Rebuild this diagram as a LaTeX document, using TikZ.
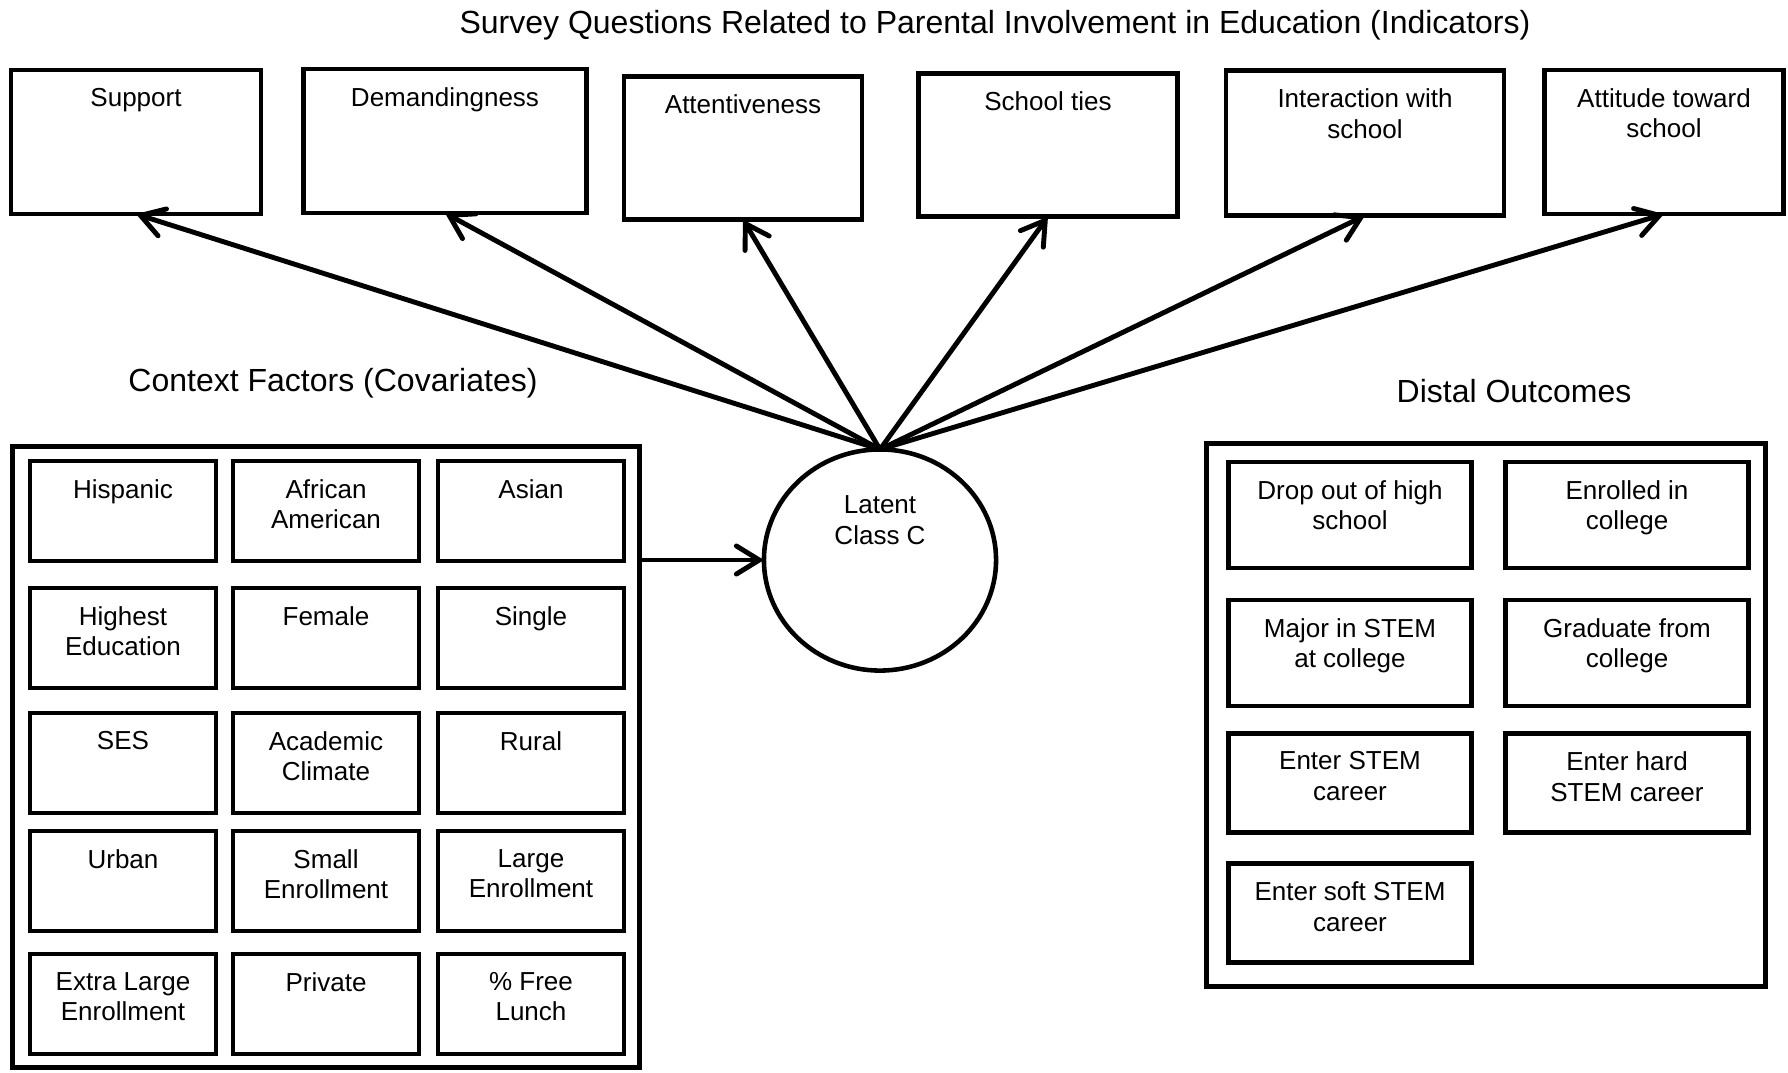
\documentclass[tikz,border=0pt]{standalone}
\usepackage{fontspec}
\setmainfont{Liberation Sans}
\usetikzlibrary{arrows.meta,shapes.geometric}

\begin{document}
\begin{tikzpicture}[
    x=0.01cm, y=-0.01cm,
    txt/.style={anchor=north, yshift=-5.0pt, align=center, inner sep=0pt,
        font=\fontsize{7.4}{8.7}\selectfont},
    qbox/.style={draw=black, line width=1.35pt, inner sep=0pt, outer sep=0pt,
        label={[txt]north:{#1}}},
    covbox/.style={qbox={#1}, minimum width=1.86cm, minimum height=1.0cm},
    outbox/.style={qbox={#1}, minimum width=2.43cm, minimum height=0.99cm},
    panel/.style={draw=black, line width=1.35pt, inner sep=0pt, outer sep=0pt},
    latent/.style={ellipse, draw=black, line width=1.3pt, inner sep=0pt,
        outer sep=0pt, minimum width=2.32cm, minimum height=2.21cm,
        label={[txt, yshift=-8pt]north:{#1}}},
    heading/.style={font=\fontsize{9.1}{11}\selectfont, inner sep=0pt},
    edge/.style={line width=1.4pt, line cap=round,
        -{Straight Barb[length=6.5pt, width=8pt, line cap=round]}}
]
    \useasboundingbox (0,0) rectangle (1788,1072);

    % headings
    \node[heading] (ttl) at (995,25)
        {Survey Questions Related to Parental Involvement in Education (Indicators)};
    \node[heading] (ctxttl) at (333,383) {Context Factors (Covariates)};
    \node[heading] (outttl) at (1514,391) {Distal Outcomes};

    % indicators
    \node[qbox=Support, minimum width=2.50cm, minimum height=1.44cm] (sup) at (136,142) {};
    \node[qbox=Demandingness, minimum width=2.83cm, minimum height=1.44cm] (dem) at (445,141) {};
    \node[qbox=Attentiveness, minimum width=2.38cm, minimum height=1.43cm] (att) at (743,148) {};
    \node[qbox=School ties, minimum width=2.59cm, minimum height=1.43cm] (tie) at (1048,145) {};
    \node[qbox={Interaction with\\school}, minimum width=2.78cm, minimum height=1.45cm] (int) at (1365,143) {};
    \node[qbox={Attitude toward\\school}, minimum width=2.39cm, minimum height=1.44cm] (atd) at (1664,142) {};

    % latent class
    \node[latent={Latent\\Class C}] (lc) at (880,560) {};

    % covariates
    \node[panel, minimum width=6.27cm, minimum height=6.21cm] (covs) at (326,757) {};
    \node[covbox=Hispanic] (hisp) at (123,511) {};
    \node[covbox={African\\American}] (afam) at (326,511) {};
    \node[covbox=Asian] (asian) at (531,511) {};
    \node[covbox={Highest\\Education}] (hied) at (123,638) {};
    \node[covbox=Female] (fem) at (326,638) {};
    \node[covbox=Single] (sing) at (531,638) {};
    \node[covbox=SES] (ses) at (123,763) {};
    \node[covbox={Academic\\Climate}] (acad) at (326,763) {};
    \node[covbox=Rural] (rural) at (531,763) {};
    \node[covbox=Urban] (urban) at (123,881) {};
    \node[covbox={Small\\Enrollment}] (smenr) at (326,881) {};
    \node[covbox={Large\\Enrollment}] (lgenr) at (531,881) {};
    \node[covbox={Extra Large\\Enrollment}] (xlenr) at (123,1004) {};
    \node[covbox=Private] (priv) at (326,1004) {};
    \node[covbox={\% Free\\Lunch}] (lunch) at (531,1004) {};

    % distal outcomes
    \node[panel, minimum width=5.58cm, minimum height=5.42cm] (outs) at (1486,715) {};
    \node[outbox={Drop out of high\\school}, minimum height=1.06cm] (drop) at (1350,515) {};
    \node[outbox={Enrolled in\\college}, minimum height=1.06cm] (enrol) at (1627,515) {};
    \node[outbox={Major in STEM\\at college}, minimum height=1.06cm] (major) at (1350,653) {};
    \node[outbox={Graduate from\\college}, minimum height=1.06cm] (grad) at (1627,653) {};
    \node[outbox={Enter STEM\\career}] (stem) at (1350,783) {};
    \node[outbox={Enter hard\\STEM career}] (hard) at (1627,783) {};
    \node[outbox={Enter soft STEM\\career}] (soft) at (1350,913) {};

    % paths
    \draw[edge] (lc.north) -- (sup.south);
    \draw[edge] (lc.north) -- (dem.south);
    \draw[edge] (lc.north) -- (att.south);
    \draw[edge] (lc.north) -- (tie.south);
    \draw[edge] (lc.north) -- (int.south);
    \draw[edge] (lc.north) -- (atd.south);
    \draw[edge] (covs.east |- lc.west) -- (lc.west);
\end{tikzpicture}
\end{document}
